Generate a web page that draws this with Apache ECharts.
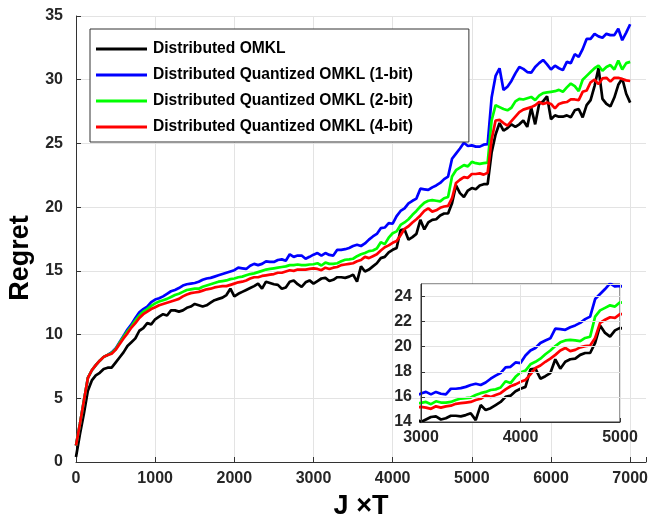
<!DOCTYPE html>
<html>
<head>
<meta charset="utf-8">
<script src="https://cdn.jsdelivr.net/npm/echarts@6/dist/echarts.min.js"></script>
<style>
  html, body { margin: 0; padding: 0; background: #fff; }
  #chart { width: 651px; height: 521px; }
</style>
</head>
<body>
<div id="chart"></div>
<script>
// samples every 50 steps of J x T, from 0 to 7000
const step = 50;

const omkl = [
  0.4, 2.2, 3.8, 5.6, 6.4, 6.8, 7.0, 7.3, 7.4, 7.4,
  7.8, 8.2, 8.6, 9.1, 9.4, 9.7, 10.3, 10.5, 10.9, 10.8,
  11.2, 11.4, 11.6, 11.5, 11.9, 11.9, 11.8, 11.9, 12.1, 12.2,
  12.4, 12.3, 12.2, 12.3, 12.5, 12.7, 12.8, 12.9, 13.1, 13.6,
  13.0, 13.2, 13.35, 13.5, 13.65, 13.8, 14.0, 13.6, 14.15, 14.05,
  13.95, 13.9, 13.6, 13.7, 14.15, 14.25, 13.95, 13.75, 14.1, 14.25,
  14.0, 14.2, 14.4, 14.45, 14.2, 14.3, 14.5, 14.5, 14.45, 14.55,
  14.7, 14.15, 15.35, 14.95, 15.1, 15.35, 15.6, 16.0, 16.1, 16.45,
  16.65, 16.8, 18.2, 18.25, 17.45, 17.65, 17.9, 19.0, 18.25, 18.8,
  19.0, 19.05, 19.35, 19.5, 19.5, 20.3, 21.7, 21.1, 20.8, 21.3,
  21.5, 21.4, 21.7, 21.8, 21.8, 24.3, 25.7, 26.6, 26.0, 26.2,
  26.5, 26.3, 26.5, 26.8, 26.3, 27.8, 26.5, 28.1, 28.3, 28.7,
  26.9, 27.2, 27.1, 27.1, 27.2, 27.05, 27.6, 27.7, 27.05, 28.0,
  28.4, 29.5, 30.9, 28.5, 28.1, 27.9, 28.6, 29.6, 30.1, 28.9,
  28.2
];

const quant1 = [
  1.3, 3.0, 4.8, 6.6, 7.2, 7.6, 7.95, 8.25, 8.4, 8.6,
  8.9, 9.4, 9.9, 10.4, 10.8, 11.3, 11.75, 12.0, 12.2, 12.55,
  12.75, 12.85, 13.0, 13.2, 13.4, 13.5, 13.65, 13.85, 13.95, 14.0,
  14.05, 14.15, 14.3, 14.4, 14.45, 14.55, 14.65, 14.75, 14.85, 14.95,
  15.05, 15.25, 15.2, 15.15, 15.4, 15.55, 15.45, 15.55, 15.75, 15.7,
  15.7, 15.85, 15.9, 15.8, 16.3, 16.1, 16.2, 16.2, 15.95, 16.1,
  16.27, 16.4, 16.2, 16.4, 16.25, 16.2, 16.65, 16.65, 16.7, 16.8,
  16.95, 17.05, 16.95, 17.15, 17.45, 17.7, 17.9, 18.35, 18.4, 18.75,
  18.7, 19.3, 19.7, 19.9, 20.3, 20.5, 20.67, 21.45, 21.4, 21.35,
  21.55, 21.7, 21.9, 22.2, 22.4, 23.8, 24.2, 24.6, 25.05, 24.8,
  24.85, 24.75, 24.75, 24.9, 24.95, 28.6, 30.3, 30.9, 29.2, 29.45,
  29.9, 30.5, 31.0, 30.85, 30.6, 30.55, 31.0, 31.3, 31.55, 31.2,
  30.8, 31.1, 30.9, 30.75, 31.4, 31.3, 32.0, 31.8, 32.4, 33.2,
  33.2, 33.6, 33.4, 33.3, 33.6, 33.5, 33.5, 34.0, 33.1, 33.7,
  34.35
];

const quant2 = [
  1.3, 3.0, 4.8, 6.6, 7.2, 7.6, 7.95, 8.25, 8.4, 8.55,
  8.85, 9.35, 9.8, 10.25, 10.65, 11.1, 11.5, 11.8, 12.0, 12.25,
  12.45, 12.6, 12.7, 12.8, 12.95, 13.1, 13.2, 13.35, 13.5, 13.55,
  13.6, 13.6, 13.75, 13.85, 13.95, 14.05, 14.15, 14.2, 14.25, 14.35,
  14.4, 14.5, 14.55, 14.65, 14.75, 14.8, 14.9, 15.0, 15.1, 15.15,
  15.2, 15.25, 15.3, 15.35, 15.45, 15.45, 15.5, 15.45, 15.45, 15.5,
  15.52, 15.6, 15.42, 15.65, 15.55, 15.55, 15.6, 15.75, 15.87, 15.9,
  15.95, 16.15, 16.3, 16.4, 16.55, 16.6, 16.75, 17.25, 17.1, 17.6,
  17.95, 18.1, 18.6, 18.8, 19.05, 19.4, 19.7, 20.05, 20.35, 20.5,
  20.55, 20.5, 20.45, 20.7, 20.8, 22.4, 22.9, 23.1, 23.3, 23.2,
  23.55, 23.45, 23.4, 23.45, 23.5, 26.8, 28.0, 27.85, 27.7, 27.6,
  27.8, 28.3, 28.5, 28.45, 28.55, 28.65, 28.4, 28.75, 28.95, 29.0,
  29.05, 29.1, 29.2, 29.05, 29.4, 29.7, 29.5, 29.1, 30.0, 30.3,
  30.6, 30.9, 31.1, 30.7, 31.0, 31.15, 30.8, 31.5, 30.8, 31.3,
  31.4
];

const quant4 = [
  1.3, 3.0, 4.8, 6.6, 7.2, 7.6, 7.95, 8.25, 8.4, 8.5,
  8.8, 9.25, 9.7, 10.1, 10.55, 10.9, 11.3, 11.6, 11.8, 12.0,
  12.15, 12.3, 12.4, 12.5, 12.6, 12.7, 12.8, 13.0, 13.15, 13.25,
  13.3, 13.35, 13.45, 13.55, 13.6, 13.7, 13.75, 13.8, 13.8, 13.9,
  14.0, 14.1, 14.15, 14.25, 14.4, 14.5, 14.5, 14.6, 14.65, 14.7,
  14.75, 14.85, 14.85, 14.95, 15.05, 15.0, 15.1, 15.1, 15.1, 15.15,
  15.2, 15.15, 15.05, 15.25, 15.15, 15.25, 15.3, 15.45, 15.5, 15.55,
  15.6, 15.75, 15.85, 16.1, 16.0, 16.15, 16.3, 16.6, 16.85, 17.0,
  17.2, 17.35, 17.8, 18.3, 18.5, 18.8, 19.05, 19.35, 19.7, 19.9,
  19.65, 19.75, 19.95, 20.05, 20.1, 20.7, 21.9, 22.15, 22.35, 22.3,
  22.6, 22.6, 22.65, 22.55, 22.7, 25.3, 26.8, 26.85, 26.6, 26.4,
  26.75, 27.1, 27.45, 27.65, 27.75, 27.85, 28.0, 28.25, 28.1, 28.2,
  28.1, 27.75, 28.1, 28.2, 28.25, 28.45, 28.45, 28.4, 29.05, 29.15,
  29.8, 30.0, 29.65, 30.1, 30.15, 29.85, 30.15, 30.15, 30.05, 29.95,
  29.9
];

const names = [
  "Distributed OMKL",
  "Distributed Quantized OMKL (1-bit)",
  "Distributed Quantized OMKL (2-bit)",
  "Distributed Quantized OMKL (4-bit)"
];
const colors = ["#000000", "#0000ff", "#00ff00", "#ff0000"];

const font = "Liberation Sans, Arial, sans-serif";
const axisColor = "#333";
const gridColor = "#e3e3e3";

function pairs(vals) {
  return vals.map((v, i) => [i * step, v]);
}

const allSeries = [omkl, quant1, quant2, quant4];
const series = [];
allSeries.forEach((vals, k) => {
  // main plot
  series.push({
    name: names[k],
    type: "line",
    xAxisIndex: 0,
    yAxisIndex: 0,
    data: pairs(vals),
    symbol: "none",
    lineStyle: { color: colors[k], width: 2.7 },
    itemStyle: { color: colors[k] },
    z: 2,
  });
});
allSeries.forEach((vals, k) => {
  // zoomed inset
  series.push({
    name: names[k],
    type: "line",
    xAxisIndex: 1,
    yAxisIndex: 1,
    data: pairs(vals),
    symbol: "none",
    clip: true,
    lineStyle: { color: colors[k], width: 2.7 },
    itemStyle: { color: colors[k] },
    z: 5,
  });
});

const chart = echarts.init(document.getElementById("chart"));
chart.setOption({
  animation: false,
  backgroundColor: "#fff",
  textStyle: { fontFamily: font },
  legend: {
    data: names,
    orient: "vertical",
    left: 90,
    top: 29,
    icon: "rect",
    itemWidth: 51,
    itemHeight: 3,
    itemGap: 8,
    padding: [11, 56, 6, 6],
    backgroundColor: "#fff",
    borderColor: "#333",
    borderWidth: 1,
    borderRadius: 0,
    z: 10,
    textStyle: {
      fontFamily: font,
      fontSize: 15.6,
      lineHeight: 18,
      fontWeight: "bold",
      color: "#000",
      padding: [0, 0, 0, 1],
    },
  },
  grid: [
    { left: 76, right: 5, top: 16, bottom: 59, outerBoundsMode: "none" },
    {
      left: 421, top: 284, width: 199, height: 138,
      outerBoundsMode: "none",
      show: true, backgroundColor: "#fff", borderColor: axisColor, borderWidth: 1,
      z: 4,
    },
  ],
  xAxis: [
    {
      type: "value",
      gridIndex: 0,
      min: 0,
      max: 7200,
      interval: 1000,
      name: "J \u00d7T",
      nameLocation: "middle",
      nameGap: 31,
      nameTextStyle: { fontFamily: font, fontSize: 27, fontWeight: "bold", color: "#000" },
      axisLine: { lineStyle: { color: axisColor, width: 1 } },
      axisTick: { inside: true, length: 5, lineStyle: { color: axisColor } },
      axisLabel: {
        margin: 9,
        fontFamily: font, fontSize: 16, fontWeight: "bold", color: "#262626",
        formatter: (v) => (v % 1000 === 0 ? String(v) : ""),
      },
      splitLine: {
        show: true,
        lineStyle: {
          color: [gridColor, gridColor, gridColor, gridColor, gridColor, gridColor, gridColor, gridColor, "rgba(0,0,0,0)"],
        },
      },
    },
    {
      type: "value",
      gridIndex: 1,
      min: 3000,
      max: 5000,
      interval: 1000,
      z: 6,
      axisLine: { lineStyle: { color: axisColor, width: 1 } },
      axisTick: { inside: true, length: 4, lineStyle: { color: axisColor } },
      axisLabel: {
        margin: 8, fontFamily: font, fontSize: 16, fontWeight: "bold", color: "#262626",
        formatter: (v) => String(v),
      },
      splitLine: { show: true, lineStyle: { color: gridColor } },
    },
  ],
  yAxis: [
    {
      type: "value",
      gridIndex: 0,
      min: 0,
      max: 35,
      interval: 5,
      name: "Regret",
      nameLocation: "middle",
      nameGap: 41,
      nameTextStyle: {
        fontFamily: font, fontSize: 27, fontWeight: "bold", color: "#000",
        padding: [0, 38, 0, 0],
      },
      axisLine: { show: true, lineStyle: { color: axisColor, width: 1 } },
      axisTick: { show: true, inside: true, length: 5, lineStyle: { color: axisColor } },
      axisLabel: { margin: 13, fontFamily: font, fontSize: 16, fontWeight: "bold", color: "#262626" },
      splitLine: { show: true, lineStyle: { color: gridColor } },
    },
    {
      type: "value",
      gridIndex: 1,
      min: 14,
      max: 25,
      interval: 2,
      z: 6,
      axisLine: { show: true, lineStyle: { color: axisColor, width: 1 } },
      axisTick: { show: true, inside: true, length: 4, lineStyle: { color: axisColor } },
      axisLabel: { margin: 9, showMaxLabel: false, fontFamily: font, fontSize: 16, fontWeight: "bold", color: "#262626" },
      splitLine: { show: true, lineStyle: { color: gridColor } },
    },
  ],
  series: series,
});
</script>
</body>
</html>
